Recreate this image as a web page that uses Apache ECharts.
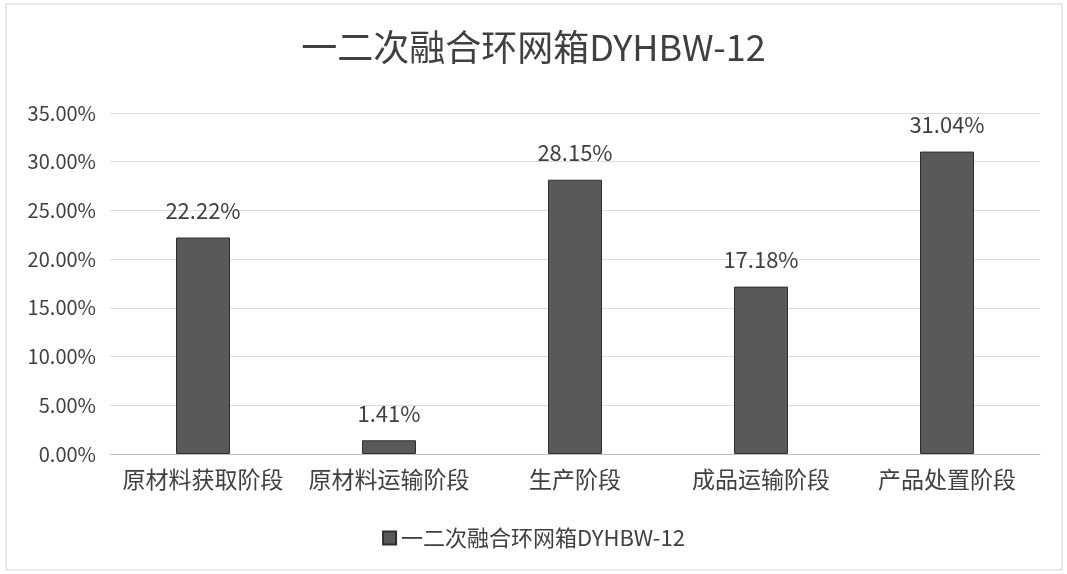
<head>
    <meta charset="UTF-8">
    <title>Echarts</title>
    <script src="https://cdn.jsdelivr.net/npm/echarts@6/dist/echarts.min.js"></script>
</head>
<body style="margin:0;background:#fff;">
    <div id="main" style="width:1067px;height:574px;"></div>
    <script type="text/javascript">
        var seriesName = '一二次融合环网箱DYHBW-12';
        var stages = ['原材料获取阶段', '原材料运输阶段', '生产阶段', '成品运输阶段', '产品处置阶段'];
        var shares = [22.22, 1.41, 28.15, 17.18, 31.04];

        var font = '"Noto Sans CJK SC", "Noto Sans", sans-serif';
        var myChart = echarts.init(document.getElementById('main'));
        myChart.setOption({
            backgroundColor: '#fff',
            textStyle: { fontFamily: font },
            graphic: [{
                type: 'rect',
                shape: { x: 6, y: 4, width: 1056, height: 566 },
                style: { fill: 'none', stroke: '#d4d4d4', lineWidth: 1 },
                silent: true
            }],
            title: {
                text: seriesName,
                left: 'center',
                top: 24,
                textStyle: { fontSize: 36, fontWeight: 'normal', color: '#404040', fontFamily: font }
            },
            legend: {
                bottom: 20,
                left: 'center',
                icon: 'rect',
                itemWidth: 13,
                itemHeight: 13,
                itemGap: 6,
                textStyle: { fontSize: 22, color: '#404040', fontFamily: font },
                data: [seriesName]
            },
            grid: { left: 110, right: 27, top: 113, bottom: 120, containLabel: false },
            xAxis: {
                type: 'category',
                data: stages,
                axisLine: { lineStyle: { color: '#bfbfbf' } },
                axisTick: { show: false },
                axisLabel: { interval: 0, hideOverlap: false, fontSize: 23, color: '#404040', margin: 14, fontFamily: font }
            },
            yAxis: {
                type: 'value',
                min: 0,
                max: 35,
                interval: 5,
                axisLine: { show: false },
                axisTick: { show: false },
                axisLabel: {
                    fontSize: 20, color: '#404040', margin: 14, fontFamily: font,
                    formatter: function (v) { return v.toFixed(2) + '%'; }
                },
                splitLine: { lineStyle: { color: '#dcdcdc' } }
            },
            series: [{
                name: seriesName,
                type: 'bar',
                data: shares,
                barWidth: 54,
                itemStyle: { color: '#595959', borderColor: '#2f2f2f', borderWidth: 1 },
                label: {
                    show: true,
                    position: 'top',
                    distance: 16,
                    fontSize: 22,
                    color: '#404040',
                    fontFamily: font,
                    formatter: function (p) { return p.value.toFixed(2) + '%'; }
                }
            }]
        });
    </script>
</body>
